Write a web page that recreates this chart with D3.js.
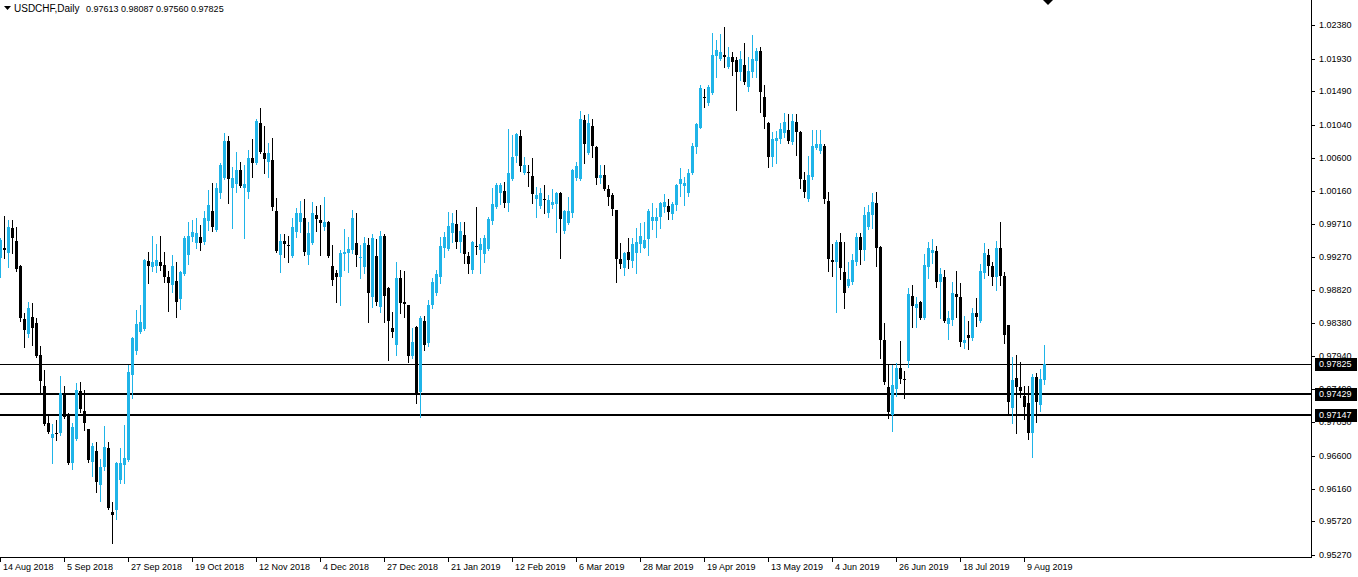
<!DOCTYPE html>
<html><head><meta charset="utf-8">
<script src="https://cdn.jsdelivr.net/npm/d3@7"></script>
<style>
body{margin:0;background:#fff;}
svg{display:block;}
text{font-family:"Liberation Sans",Arial,sans-serif;font-size:9px;fill:#000;}
</style>
</head><body>
<svg id="chart" width="1358" height="577"></svg>
<script>
const symbolName = "USDCHF,Daily";
const opens = [
0.99255,0.99389,0.99321,0.99657,0.99482,0.99146,0.98435,0.98233,0.98462,0.98381,
0.97952,0.97535,0.97038,0.96837,0.96904,0.96904,0.97427,0.97146,0.96501,0.96823,
0.97468,0.97200,0.96957,0.96514,0.96662,0.96206,0.96447,0.96703,0.95843,0.95870,
0.96273,0.96474,0.96541,0.97683,0.98005,0.98260,0.98300,0.99214,0.99133,0.99146,
0.99200,0.99160,0.98999,0.98892,0.98945,0.98703,0.99039,0.99294,0.99536,0.99456,
0.99536,0.99469,0.99751,0.99885,0.99630,1.00127,1.00329,1.00826,1.00195,1.00248,
1.00436,1.00195,1.00140,1.00597,1.00530,1.01067,1.00664,1.00543,1.00570,0.99885,
0.99294,0.99482,0.99429,0.99281,0.99603,0.99737,0.99792,0.99294,0.99456,0.99832,
0.99764,0.99670,0.99737,0.99146,0.99053,0.98999,0.99308,0.99321,0.99362,0.99456,
0.99255,0.99133,0.99429,0.98730,0.99281,0.98596,0.99549,0.98852,0.98314,0.98086,
0.98986,0.98663,0.98623,0.97938,0.98327,0.97454,0.98408,0.98113,0.98623,0.98784,
0.98999,0.99389,0.99375,0.99590,0.99710,0.99469,0.99563,0.99281,0.99093,0.99415,
0.99362,0.99308,0.99375,0.99751,0.99939,1.00127,1.00154,0.99993,1.00315,1.00624,
1.00892,1.00396,1.00409,1.00355,1.00046,0.99952,1.00046,0.99859,0.99966,0.99979,
1.00127,0.99617,0.99724,0.99859,1.00329,1.00315,1.01107,1.00664,1.01026,1.00745,
1.00329,1.00369,1.00181,1.00100,0.99899,0.99241,0.99120,0.99335,0.99214,0.99321,
0.99442,0.99389,0.99509,0.99751,0.99751,0.99805,0.99939,0.99952,0.99845,0.99966,
1.00248,1.00221,1.00127,1.00396,1.00745,1.01000,1.01416,1.01336,1.01470,1.01966,
1.01926,1.01980,1.01819,1.01953,1.01913,1.01752,1.01846,1.01551,1.01752,1.01900,
1.02034,1.01416,1.01067,1.00611,1.00826,1.00852,1.00933,1.00973,1.00812,1.01080,
1.00946,1.00302,1.00046,1.00342,1.00732,1.00691,1.00758,1.00020,0.99227,0.99200,
0.99469,0.99066,0.98878,0.98932,0.99200,0.99536,0.99362,0.99670,0.99832,0.99993,
0.99402,0.98153,0.97522,0.97146,0.97495,0.97777,0.97629,0.97871,0.98743,0.98583,
0.98663,0.98449,0.99133,0.99321,0.99348,0.98932,0.98999,0.98368,0.98421,0.98770,
0.98730,0.98113,0.98220,0.98180,0.98516,0.98408,0.99053,0.99294,0.99146,0.98999,
0.99389,0.99012,0.98354,0.97240,0.97643,0.97522,0.97400,0.97307,0.96904,0.97656,
0.97280,0.97613];
const highs = [
0.99523,0.99818,0.99764,0.99764,0.99670,0.99160,0.98516,0.98663,0.98650,0.98449,
0.98072,0.97750,0.97132,0.97024,0.97078,0.97669,0.97535,0.97173,0.97038,0.97576,
0.97589,0.97481,0.96957,0.96770,0.96783,0.96555,0.96997,0.96783,0.95977,0.96514,
0.96703,0.97011,0.97817,0.98193,0.98556,0.98623,0.99241,0.99335,0.99549,0.99442,
0.99549,0.99335,0.99080,0.99294,0.99200,0.99080,0.99549,0.99737,0.99764,0.99792,
0.99697,0.99885,1.00167,1.00262,1.00262,1.00530,1.00933,1.00892,1.00476,1.00678,
1.00543,1.00503,1.00705,1.00852,1.01121,1.01269,1.01026,1.00799,1.00866,1.00060,
0.99576,0.99576,0.99549,0.99792,0.99926,1.00020,1.00046,0.99737,1.00006,0.99952,
0.99966,1.00073,0.99751,0.99429,0.99093,0.99362,0.99643,0.99536,0.99899,0.99859,
0.99429,0.99536,0.99523,0.99576,0.99509,0.99617,0.99576,0.98860,0.98529,0.99200,
0.99093,0.99080,0.98630,0.98314,0.98335,0.98475,0.98475,0.98690,0.98986,0.99093,
0.99536,0.99603,0.99872,0.99859,0.99899,0.99737,0.99737,0.99335,0.99482,0.99939,
0.99523,0.99563,0.99805,1.00195,1.00262,1.00262,1.00275,1.00986,1.00906,1.00933,
1.00973,1.00611,1.00503,1.00597,1.00208,1.00195,1.00235,1.00100,1.00181,1.00140,
1.00140,0.99899,1.00073,1.00449,1.00543,1.01229,1.01175,1.01188,1.01121,1.00758,
1.00503,1.00503,1.00235,1.00127,0.99905,0.99456,0.99335,0.99523,0.99523,0.99657,
0.99724,0.99737,0.99912,0.99993,0.99926,1.00006,1.00113,1.00046,1.00006,1.00248,
1.00463,1.00342,1.00449,1.00799,1.01067,1.01577,1.01524,1.01577,1.02276,1.02182,
1.02262,1.02356,1.02088,1.02021,1.01953,1.02034,1.02142,1.01953,1.02249,1.02075,
1.02088,1.01577,1.01075,1.00946,1.00960,1.01067,1.01202,1.01188,1.01188,1.01188,
1.00960,1.00409,1.00624,1.00973,1.00973,1.00973,1.00785,1.00140,0.99442,0.99496,
0.99590,0.99469,0.99200,0.99308,0.99590,0.99590,0.99939,0.99966,1.00127,1.00140,
0.99415,0.98381,0.97817,0.97817,0.97844,0.98140,0.97737,0.98852,0.98892,0.98730,
0.98676,0.99308,0.99469,0.99509,0.99415,0.99120,0.99093,0.98542,0.98932,0.99080,
0.98919,0.98475,0.98408,0.98583,0.98717,0.99173,0.99456,0.99375,0.99200,0.99482,
0.99737,0.99066,0.98360,0.97925,0.97952,0.97857,0.97535,0.97535,0.97696,0.97710,
0.97763,0.98087];
const lows = [
0.98999,0.99255,0.99133,0.99321,0.99080,0.98408,0.98059,0.98193,0.98086,0.97925,
0.97441,0.97011,0.96904,0.96501,0.96810,0.96877,0.97106,0.96487,0.96420,0.96810,
0.97186,0.96944,0.96514,0.96326,0.96111,0.95991,0.96407,0.95883,0.95427,0.95749,
0.96233,0.96233,0.96528,0.97374,0.97965,0.98247,0.98287,0.98919,0.99080,0.99066,
0.99093,0.98932,0.98542,0.98797,0.98462,0.98569,0.99026,0.99173,0.99482,0.99389,
0.99362,0.99442,0.99630,0.99617,0.99617,1.00060,1.00315,0.99993,0.99657,1.00140,
1.00208,0.99523,1.00060,1.00342,1.00516,1.00664,1.00396,1.00342,0.99899,0.99335,
0.99066,0.99268,0.99200,0.99268,0.99536,0.99603,0.99294,0.99173,0.99442,0.99617,
0.99294,0.99630,0.99265,0.98892,0.98663,0.98623,0.99093,0.99066,0.99321,0.99146,
0.98986,0.99053,0.98394,0.98596,0.98623,0.98529,0.98394,0.97884,0.98193,0.97952,
0.98516,0.98462,0.97857,0.97911,0.97307,0.97119,0.98019,0.98072,0.98583,0.98757,
0.98919,0.99268,0.99362,0.99469,0.99389,0.99335,0.99187,0.99053,0.99053,0.99308,
0.99053,0.99200,0.99362,0.99710,0.99926,0.99979,0.99939,0.99885,1.00302,1.00543,
1.00423,1.00382,1.00221,0.99993,0.99805,0.99926,0.99859,0.99805,0.99926,0.99603,
0.99255,0.99590,0.99710,0.99805,1.00302,1.00302,1.00530,1.00651,1.00611,1.00248,
1.00262,1.00167,0.99966,0.99832,0.98932,0.99120,0.99026,0.99120,0.99133,0.99053,
0.99335,0.99385,0.99294,0.99643,0.99536,0.99657,0.99872,0.99778,0.99778,0.99899,
1.00086,0.99966,1.00086,1.00382,1.00664,1.00995,1.01282,1.01309,1.01456,1.01685,
1.01913,1.01819,1.01806,1.01712,1.01242,1.01645,1.01591,1.01497,1.01685,1.01685,
1.01215,1.01000,1.00476,1.00489,1.00530,1.00799,1.00879,1.00799,1.00785,1.00637,
1.00195,1.00073,1.00020,1.00315,1.00718,1.00664,0.99993,0.99080,0.99012,0.98529,
0.98972,0.98583,0.98865,0.98905,0.99160,0.99173,0.99227,0.99643,0.99657,0.99146,
0.97911,0.97562,0.97106,0.96931,0.97400,0.97576,0.97374,0.97790,0.98327,0.98327,
0.98435,0.98435,0.98986,0.99187,0.98865,0.98449,0.98394,0.98166,0.98354,0.98462,
0.98072,0.98046,0.98032,0.98153,0.98340,0.98400,0.98986,0.99026,0.98892,0.98824,
0.98892,0.98113,0.97159,0.97038,0.96904,0.97387,0.97092,0.96823,0.96582,0.97051,
0.97200,0.97560];
const closes = [
0.99496,0.99362,0.99670,0.99523,0.99106,0.98449,0.98287,0.98583,0.98314,0.97938,
0.97602,0.97024,0.96917,0.96890,0.96890,0.97441,0.97119,0.96501,0.96984,0.97481,
0.97226,0.97038,0.96541,0.96729,0.96246,0.96447,0.96716,0.95897,0.95803,0.96501,
0.96501,0.96568,0.97723,0.98180,0.98368,0.98394,0.99227,0.99146,0.99200,0.99227,
0.99146,0.98999,0.98919,0.99146,0.98663,0.99066,0.99523,0.99549,0.99603,0.99590,
0.99456,0.99792,0.99966,0.99670,1.00195,1.00503,1.00826,1.00315,1.00329,1.00436,
1.00221,1.00248,1.00597,1.00530,1.01094,1.00678,1.00584,1.00664,0.99939,0.99348,
0.99482,0.99442,0.99422,0.99670,0.99859,0.99859,0.99335,0.99590,0.99859,0.99778,
0.99724,0.99737,0.99275,0.98959,0.98999,0.99321,0.99335,0.99375,0.99792,0.99294,
0.99268,0.99456,0.98784,0.99523,0.98663,0.99549,0.98743,0.98408,0.98260,0.98986,
0.98650,0.98636,0.97938,0.98126,0.97441,0.98449,0.98086,0.98623,0.98932,0.99039,
0.99415,0.99536,0.99684,0.99724,0.99469,0.99617,0.99308,0.99173,0.99469,0.99408,
0.99442,0.99523,0.99778,0.99979,1.00235,1.00235,0.99993,1.00396,1.00611,1.00919,
1.00489,1.00503,1.00396,1.00113,1.00100,1.00127,1.00033,1.00033,1.00006,1.00127,
0.99778,0.99885,0.99885,1.00436,1.00489,1.01121,1.00785,1.01067,1.00758,1.00329,
1.00369,1.00181,1.00073,0.99912,0.99241,0.99173,0.99321,0.99227,0.99442,0.99469,
0.99549,0.99496,0.99885,0.99805,0.99805,0.99993,1.00006,0.99872,0.99979,1.00235,
1.00315,1.00262,1.00396,1.00758,1.01053,1.01537,1.01403,1.01551,1.01980,1.02048,
1.02021,1.01953,1.01953,1.01886,1.01752,1.01926,1.01618,1.01766,1.01926,1.02034,
1.01483,1.01148,1.00611,1.00852,1.00866,1.00986,1.01080,1.00826,1.01094,1.00946,
1.00315,1.00140,1.00369,1.00758,1.00785,1.00785,1.00046,0.99241,0.99200,0.99469,
0.99120,0.98784,0.98972,0.99227,0.99536,0.99362,0.99832,0.99872,1.00006,0.99389,
0.98153,0.97589,0.97186,0.97549,0.97777,0.97629,0.97616,0.98770,0.98609,0.98636,
0.98449,0.99160,0.99389,0.99362,0.98932,0.99039,0.98408,0.98449,0.98784,0.98730,
0.98126,0.98153,0.98180,0.98516,0.98462,0.99080,0.99321,0.99146,0.98999,0.99389,
0.99012,0.98220,0.97320,0.97616,0.97522,0.97468,0.97253,0.96904,0.97656,0.97320,
0.97629,0.97825];
const dateLabels = ["14 Aug 2018","5 Sep 2018","27 Sep 2018","19 Oct 2018","12 Nov 2018","4 Dec 2018","27 Dec 2018","21 Jan 2019","12 Feb 2019","6 Mar 2019","28 Mar 2019","19 Apr 2019","13 May 2019","4 Jun 2019","26 Jun 2019","18 Jul 2019","9 Aug 2019"];
const dateLabelBars = [0,16,32,48,64,80,96,112,128,144,160,176,192,208,224,240,256];
const priceTicks = [1.02380,1.01930,1.01490,1.01040,1.00600,1.00160,0.99710,0.99270,0.98820,0.98380,0.97940,0.97490,0.97050,0.96600,0.96160,0.95720,0.95270];
const levelPrices = [0.97825,0.97429,0.97147];

const axisX = 1311, axisY = 557;
const upColor = "#1fb4e8", downColor = "#000000";
const svg = d3.select("#chart");
const x = d3.scaleLinear().domain([0, 261]).range([0, 1044]);
const y = d3.scaleLinear().domain([0.95270, 1.02380]).range([554.8, 25.2]);
const ry = v => Math.round(y(v));

const bars = d3.range(opens.length).map(i => ({i, o:opens[i], h:highs[i], l:lows[i], c:closes[i]}));

// level lines
const lv = svg.append("g");
levelPrices.forEach((p, k) => {
  const yy = ry(p);
  lv.append("rect").attr("x", 0).attr("width", axisX).attr("y", k === 0 ? yy : yy - 1)
    .attr("height", k === 0 ? 1 : 2).attr("fill", "#000");
});

// candles
const g = svg.append("g").attr("shape-rendering", "crispEdges");
g.selectAll("rect.w").data(bars).join("rect").attr("class","w")
  .attr("x", d => Math.round(x(d.i))).attr("width", 1)
  .attr("y", d => ry(d.h)).attr("height", d => Math.max(1, ry(d.l) - ry(d.h) + 1))
  .attr("fill", d => d.c >= d.o ? upColor : downColor);
g.selectAll("rect.b").data(bars).join("rect").attr("class","b")
  .attr("x", d => Math.round(x(d.i)) - 1).attr("width", 3)
  .attr("y", d => ry(Math.max(d.o, d.c)))
  .attr("height", d => Math.max(1, ry(Math.min(d.o, d.c)) - ry(Math.max(d.o, d.c))))
  .attr("fill", d => d.c >= d.o ? upColor : downColor);

// axes
const ax = svg.append("g").attr("shape-rendering", "crispEdges");
ax.append("rect").attr("x", axisX).attr("y", 0).attr("width", 1).attr("height", axisY + 1).attr("fill", "#000");
ax.append("rect").attr("x", 0).attr("y", axisY).attr("width", axisX + 1).attr("height", 1).attr("fill", "#000");

// price tick labels; those hidden behind level boxes are clipped to their visible part
const defs = svg.append("defs");
priceTicks.forEach((p, k) => {
  const yy = ry(p);
  ax.append("rect").attr("x", axisX + 1).attr("y", yy).attr("width", 3).attr("height", 1).attr("fill", "#000");
  ax.append("text").attr("x", axisX + 8).attr("y", yy).attr("dy", "0.35em").text(p.toFixed(5));
});

dateLabels.forEach((t, k) => {
  const xx = Math.round(x(dateLabelBars[k]));
  ax.append("rect").attr("x", xx).attr("y", axisY + 1).attr("width", 1).attr("height", 4).attr("fill", "#000");
  ax.append("text").attr("x", xx + 3).attr("y", axisY + 13).text(t);
});

// level labels (boxes cover the tick labels beneath, as in the reference)
levelPrices.forEach(p => {
  const yy = ry(p);
  ax.append("rect").attr("x", axisX + 4).attr("y", yy - 6).attr("width", 42).attr("height", 13).attr("fill", "#000");
  ax.append("text").attr("x", axisX + 8).attr("y", yy).attr("dy", "0.35em").style("fill", "#fff").text(p.toFixed(5));
});

// title
svg.append("path").attr("d", "M4,6 L11,6 L7.5,10 Z").attr("fill", "#000");
svg.append("text").attr("x", 14).attr("y", 12).style("font-size", "10px").text(symbolName);
svg.append("text").attr("x", 86).attr("y", 12)
  .text([opens[261], highs[261], lows[261], closes[261]].map(v => v.toFixed(5)).join(" "));

// shift marker
svg.append("path").attr("d", "M1043,0 L1053,0 L1048,5 Z").attr("fill", "#000");
</script>
</body></html>
